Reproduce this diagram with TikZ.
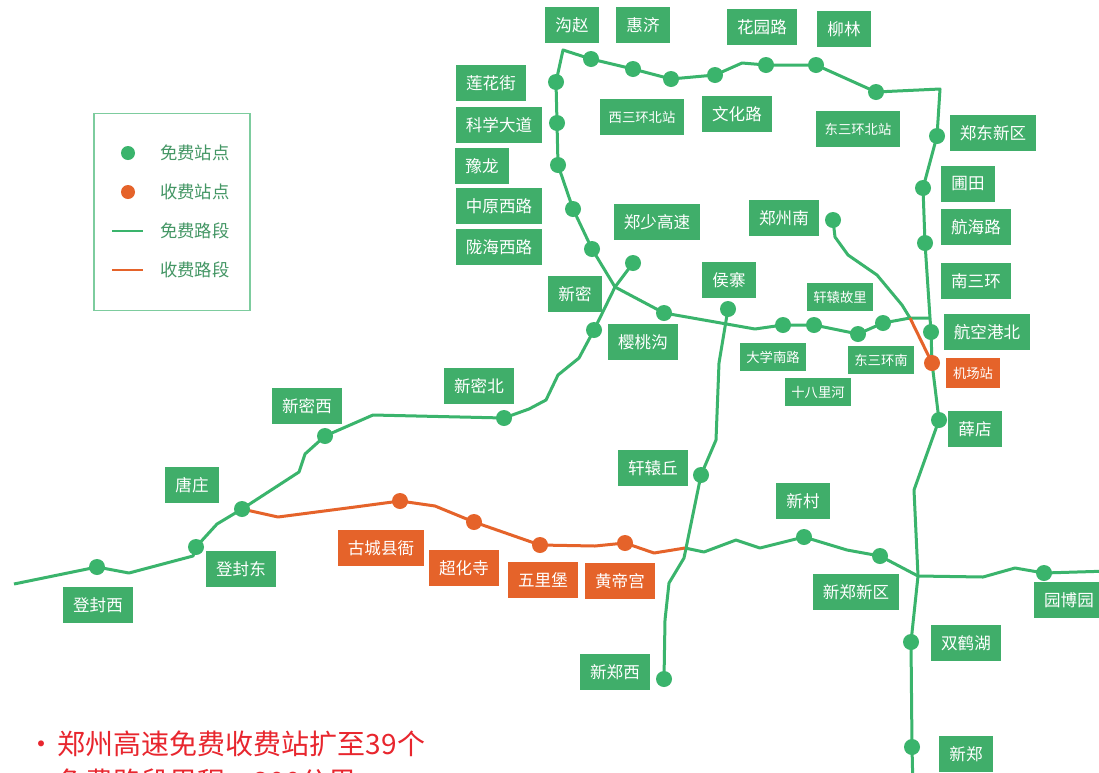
\documentclass[tikz,border=0pt]{standalone}
\usepackage{fontspec}
\setmainfont{Noto Sans CJK SC}
\usetikzlibrary{backgrounds}
\definecolor{lgreen}{RGB}{58,180,108}
\definecolor{bgreen}{RGB}{64,174,106}
\definecolor{lorange}{RGB}{229,99,42}
\definecolor{tred}{RGB}{232,38,46}
\definecolor{legborder}{RGB}{125,204,158}
\definecolor{legtext}{RGB}{67,150,100}
\begin{document}
\begin{tikzpicture}[x=0.75pt,y=-0.75pt,
  gdot/.style={circle,fill=lgreen,inner sep=0pt,minimum size=12pt},
  odot/.style={circle,fill=lorange,inner sep=0pt,minimum size=12pt},
  lab/.style={fill=bgreen,text=white,font=\fontsize{12.4}{14}\selectfont,inner xsep=7.5pt,inner ysep=0pt,minimum height=27pt},
  olab/.style={lab,fill=lorange},
  slab/.style={lab,font=\fontsize{10}{12}\selectfont,inner xsep=6.5pt},
  sslab/.style={slab,inner xsep=4.75pt,minimum height=21pt},
  oslab/.style={slab,fill=lorange,inner xsep=4.9pt,minimum height=22pt},
  gline/.style={draw=lgreen,line width=2.25pt,line join=round},
  oline/.style={draw=lorange,line width=2.25pt,line join=round},
  legbox/.style={draw=legborder,line width=1.2pt,inner sep=0pt,minimum width=117pt,minimum height=148pt},
  legtxt/.style={text=legtext,font=\fontsize{13}{15}\selectfont,anchor=west,inner sep=0pt},
  bottomtxt/.style={text=tred,font=\fontsize{21}{24}\selectfont,anchor=west,inner sep=0pt}]
\useasboundingbox (0,0) rectangle (1099,772);

% ---- junction / free-end coordinates
\coordinate (j1) at (615,287);
\coordinate (j2) at (930,318);
\coordinate (j3) at (910,318);
\coordinate (j4) at (918,576);
\coordinate (j5) at (685,548);
\coordinate (e1) at (14,584);
\coordinate (e2) at (913,790);
\coordinate (e3) at (1110,571);

% ---- green station dots
\node[gdot] (gLH)  at (556,82)  {};
\node[gdot] (gKX)  at (557,123) {};
\node[gdot] (gYL)  at (558,165) {};
\node[gdot] (gZY)  at (573,209) {};
\node[gdot] (gLHX) at (592,249) {};
\node[gdot] (gGZ)  at (591,59)  {};
\node[gdot] (gHJ)  at (633,69)  {};
\node[gdot] (gXSH) at (671,79)  {};
\node[gdot] (gWH)  at (715,75)  {};
\node[gdot] (gHY)  at (766,65)  {};
\node[gdot] (gLL)  at (816,65)  {};
\node[gdot] (gDSH) at (876,92)  {};
\node[gdot] (gZD)  at (937,136) {};
\node[gdot] (gPT)  at (923,188) {};
\node[gdot] (gHH)  at (925,243) {};
\node[gdot] (gHK)  at (931,332) {};
\node[gdot] (gXD)  at (939,420) {};
\node[gdot] (gSHH) at (911,642) {};
\node[gdot] (gXZ)  at (912,747) {};
\node[gdot] (gZZN) at (833,220) {};
\node[gdot] (gZSG) at (633,263) {};
\node[gdot] (gXM)  at (594,330) {};
\node[gdot] (gYTG) at (664,313) {};
\node[gdot] (gHZ)  at (728,309) {};
\node[gdot] (gDX)  at (783,325) {};
\node[gdot] (gXY)  at (814,325) {};
\node[gdot] (gSB)  at (858,334) {};
\node[gdot] (gDSN) at (883,323) {};
\node[gdot] (gXMB) at (504,418) {};
\node[gdot] (gXMX) at (325,436) {};
\node[gdot] (gTZ)  at (242,509) {};
\node[gdot] (gDFD) at (196,547) {};
\node[gdot] (gDFX) at (97,567)  {};
\node[gdot] (gXYQ) at (701,475) {};
\node[gdot] (gXC)  at (804,537) {};
\node[gdot] (gXZX) at (880,556) {};
\node[gdot] (gBBY) at (1044,573) {};
\node[gdot] (gXZW) at (664,679) {};
% ---- orange station dots
\node[odot] (oJC)  at (932,363) {};
\node[odot] (oGC)  at (400,501) {};
\node[odot] (oCHS) at (474,522) {};
\node[odot] (oWLB) at (540,545) {};
\node[odot] (oHDG) at (625,543) {};

% ---- routes (behind dots)
\begin{scope}[on background layer]
\fill[white] (0,0) rectangle (1099,772);
\draw[gline] (gLHX.center) -- (gZY.center) -- (gYL.center) -- (gKX.center) -- (gLH.center) -- (563,50)
  -- (gGZ.center) -- (gHJ.center) -- (gXSH.center) -- (gWH.center) -- (742,63) -- (gHY.center) -- (gLL.center)
  -- (gDSH.center) -- (940,89) -- (gZD.center) -- (gPT.center) -- (gHH.center) -- (j2) -- (gHK.center)
  -- (oJC.center) -- (gXD.center) -- (914,490) -- (j4) -- (gSHH.center) -- (gXZ.center) -- (e2);
\draw[gline] (gLHX.center) -- (j1) -- (gYTG.center) -- (755,329) -- (gDX.center) -- (gXY.center)
  -- (gSB.center) -- (gDSN.center) -- (j3) -- (j2);
\draw[gline] (gZSG.center) -- (j1) -- (gXM.center) -- (579,358) -- (558,375) -- (546,400) -- (529,409)
  -- (gXMB.center) -- (373,415) -- (gXMX.center) -- (305,454) -- (299,472) -- (gTZ.center) -- (217,524)
  -- (gDFD.center) -- (193,556) -- (129,573) -- (gDFX.center) -- (e1);
\draw[gline] (gHZ.center) -- (719,363) -- (716,440) -- (gXYQ.center) -- (684,558) -- (669,583)
  -- (665,620) -- (gXZW.center);
\draw[gline] (gZZN.center) -- (835,237) -- (848,255) -- (877,275) -- (902,305) -- (j3);
\draw[oline] (j3) -- (oJC.center);
\draw[oline] (gTZ.center) -- (278,517) -- (355,507) -- (oGC.center) -- (435,506) -- (oCHS.center)
  -- (oWLB.center) -- (595,546) -- (oHDG.center) -- (654,553) -- (j5);
\draw[gline] (j5) -- (704,552) -- (736,540) -- (760,548) -- (gXC.center) -- (847,550) -- (gXZX.center)
  -- (j4) -- (983,577) -- (1015,568) -- (gBBY.center) -- (e3);
\end{scope}

% ---- station labels
\node[lab] (tGZ)   at (572,25)  {沟赵};
\node[lab] (tHJ)   at (643,25)  {惠济};
\node[lab] (tHY)   at (762,27)  {花园路};
\node[lab] (tLL)   at (844,29)  {柳林};
\node[lab] (tLH)   at (491,83)  {莲花街};
\node[lab] (tKX)   at (499,125) {科学大道};
\node[lab] (tYL)   at (482,166) {豫龙};
\node[lab] (tZY)   at (499,206) {中原西路};
\node[lab] (tLHX)  at (499,247) {陇海西路};
\node[slab] (tXSH) at (642,117) {西三环北站};
\node[lab] (tWH)   at (737,114) {文化路};
\node[slab] (tDSH) at (858,129) {东三环北站};
\node[lab] (tZD)   at (993,133) {郑东新区};
\node[lab] (tPT)   at (968,184) {圃田};
\node[lab] (tHH)   at (976,227) {航海路};
\node[lab] (tNSH)  at (976,281) {南三环};
\node[lab] (tHK)   at (987,332) {航空港北};
\node[oslab] (tJC) at (973,373) {机场站};
\node[lab] (tXD)   at (975,429) {薛店};
\node[lab] (tZZN)  at (784,218) {郑州南};
\node[lab] (tZSG)  at (657,222) {郑少高速};
\node[lab] (tXM)   at (575,294) {新密};
\node[lab] (tHZ)   at (729,280) {侯寨};
\node[lab] (tYTG)  at (643,342) {樱桃沟};
\node[sslab] (tXY) at (840,297) {轩辕故里};
\node[sslab] (tDX) at (773,357) {大学南路};
\node[sslab] (tDSN) at (881,360) {东三环南};
\node[sslab] (tSB) at (818,392) {十八里河};
\node[lab] (tXMB)  at (479,386) {新密北};
\node[lab] (tXMX)  at (307,406) {新密西};
\node[lab] (tTZ)   at (192,485) {唐庄};
\node[lab] (tDFD)  at (241,569) {登封东};
\node[lab] (tDFX)  at (98,605)  {登封西};
\node[olab] (tGC)  at (381,548) {古城县衙};
\node[olab] (tCHS) at (464,568) {超化寺};
\node[olab] (tWLB) at (543,580) {五里堡};
\node[olab] (tHDG) at (620,581) {黄帝宫};
\node[lab] (tXYQ)  at (653,468) {轩辕丘};
\node[lab] (tXC)   at (803,501) {新村};
\node[lab] (tXZX)  at (856,592) {新郑新区};
\node[lab] (tBBY)  at (1069,600) {园博园};
\node[lab] (tSHH)  at (966,643) {双鹤湖};
\node[lab] (tXZW)  at (615,672) {新郑西};
\node[lab] (tXZ)   at (966,754) {新郑};

% ---- legend
\node[legbox] (legend) at (172,212) {};
\node[circle,fill=lgreen,inner sep=0pt,minimum size=10.5pt] (legd1) at (128,153) {};
\node[circle,fill=lorange,inner sep=0pt,minimum size=10.5pt] (legd2) at (128,192) {};
\coordinate (legl1a) at (112,231); \coordinate (legl1b) at (143,231);
\coordinate (legl2a) at (112,270); \coordinate (legl2b) at (143,270);
\draw[draw=lgreen,line width=1.8pt] (legl1a) -- (legl1b);
\draw[draw=lorange,line width=1.8pt] (legl2a) -- (legl2b);
\node[legtxt] (legt1) at (160,153) {免费站点};
\node[legtxt] (legt2) at (160,192) {收费站点};
\node[legtxt] (legt3) at (160,231) {免费路段};
\node[legtxt] (legt4) at (160,270) {收费路段};

% ---- bottom notes
\node[bottomtxt] (note1) at (27,744) {·\hspace{2pt}郑州高速免费收费站扩至39个};
\node[bottomtxt] (note2) at (27,782) {·\hspace{2pt}免费路段里程：300公里};
\end{tikzpicture}
\end{document}
